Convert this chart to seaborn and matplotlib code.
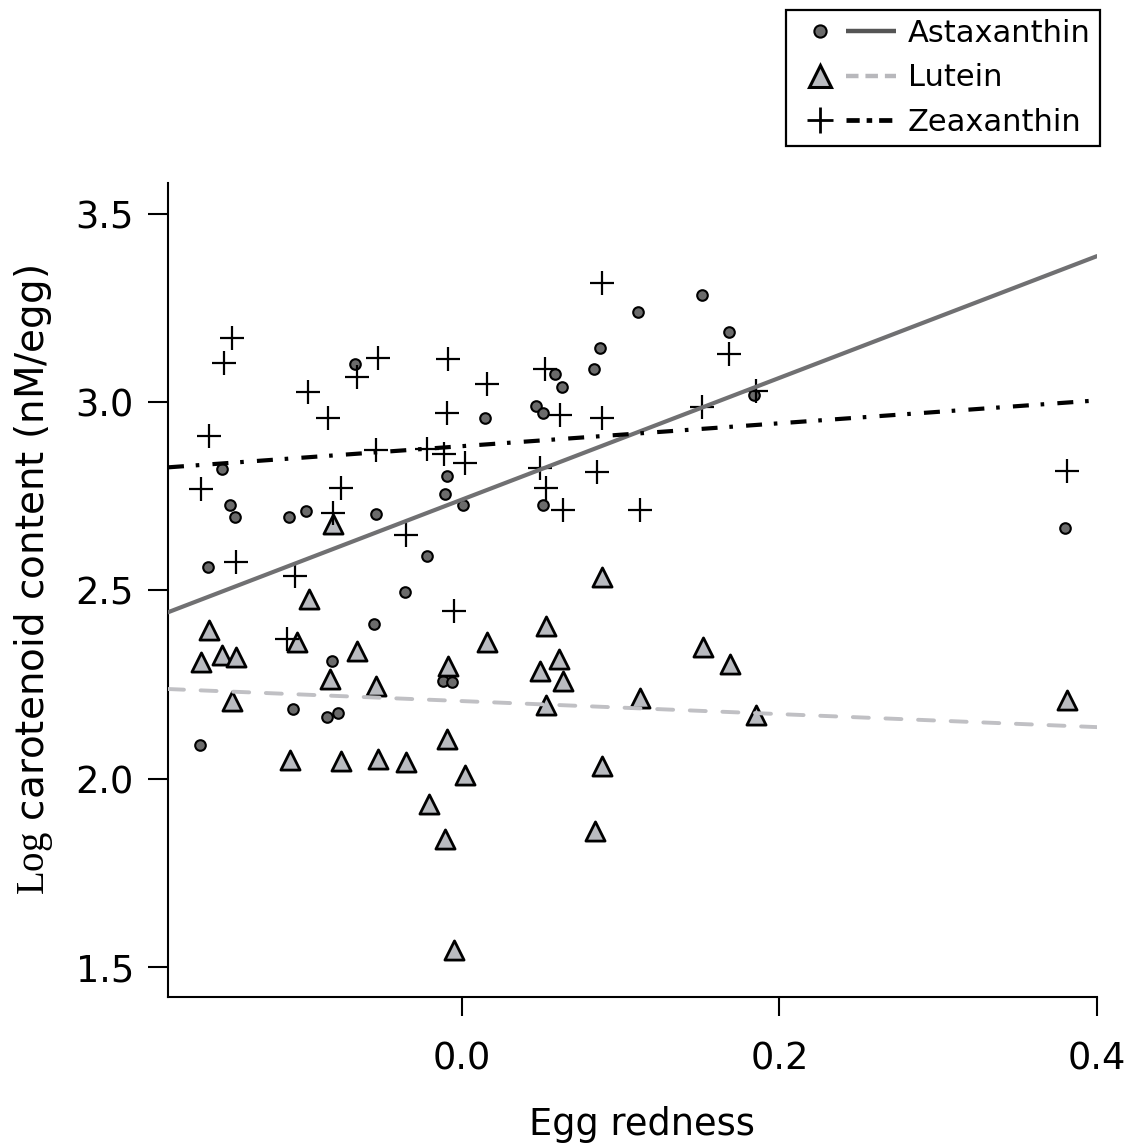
import numpy as np
import pandas as pd
import matplotlib
matplotlib.use("Agg")
import matplotlib.pyplot as plt
import seaborn as sns
from matplotlib.lines import Line2D
from matplotlib.legend_handler import HandlerTuple

# ---------------- data ----------------
series_names = ["Astaxanthin", "Lutein", "Zeaxanthin"]

asta_x = [-0.165, -0.160, -0.151, -0.146, -0.143, -0.109, -0.098, -0.106, -0.085, -0.078,
          -0.082, -0.067, -0.054, -0.055, -0.036, -0.022, -0.012, -0.006, -0.0105, -0.0095,
          0.001, 0.0145, 0.047, 0.051, 0.051, 0.059, 0.063, 0.083, 0.087, 0.111,
          0.151, 0.168, 0.184, 0.380]
asta_y = [2.088, 2.562, 2.822, 2.727, 2.695, 2.695, 2.711, 2.185, 2.165, 2.175,
          2.312, 3.100, 2.702, 2.410, 2.495, 2.591, 2.260, 2.257, 2.755, 2.803,
          2.726, 2.958, 2.990, 2.970, 2.727, 3.074, 3.041, 3.088, 3.144, 3.239,
          3.284, 3.187, 3.019, 2.665]

lut_x = [-0.164, -0.159, -0.151, -0.142, -0.145, -0.108, -0.104, -0.096, -0.081, -0.083,
         -0.076, -0.066, -0.054, -0.0525, -0.035, -0.0205, -0.0096, -0.0107, -0.0084, -0.005,
         0.002, 0.016, 0.049, 0.053, 0.053, 0.061, 0.064, 0.084, 0.088, 0.088,
         0.112, 0.152, 0.169, 0.185, 0.381]
lut_y = [2.310, 2.395, 2.328, 2.324, 2.207, 2.049, 2.364, 2.476, 2.676, 2.264,
         2.047, 2.340, 2.246, 2.052, 2.043, 1.933, 2.105, 1.839, 2.299, 1.545,
         2.010, 2.364, 2.286, 2.405, 2.195, 2.317, 2.258, 1.861, 2.034, 2.536,
         2.213, 2.349, 2.305, 2.169, 2.209]

zea_x = [-0.164, -0.159, -0.150, -0.145, -0.142, -0.110, -0.105, -0.097, -0.084, -0.081,
         -0.076, -0.066, -0.054, -0.0525, -0.035, -0.022, -0.011, -0.0096, -0.0084, -0.005,
         0.002, 0.016, 0.049, 0.0525, 0.053, 0.062, 0.064, 0.085, 0.088, 0.088,
         0.112, 0.1515, 0.168, 0.185, 0.381]
zea_y = [2.768, 2.910, 3.104, 3.169, 2.576, 2.371, 2.539, 3.027, 2.957, 2.706,
         2.771, 3.067, 2.873, 3.116, 2.648, 2.875, 2.861, 2.970, 3.114, 2.445,
         2.839, 3.047, 2.826, 3.087, 2.771, 2.967, 2.713, 2.815, 2.958, 3.317,
         2.713, 2.986, 3.129, 3.030, 2.818]

# regression lines (intercept, slope)
fit_intercept = [2.741, 2.206, 2.883]
fit_slope = [1.617, -0.173, 0.304]

x_ticks = [0.0, 0.2, 0.4]
x_ticklabels = ["0.0", "0.2", "0.4"]
y_ticks = [1.5, 2.0, 2.5, 3.0, 3.5]
y_ticklabels = ["1.5", "2.0", "2.5", "3.0", "3.5"]
x_limits = [-0.185, 0.4]
y_limits = [1.42, 3.582]

# ---------------- style ----------------
sns.set_style("ticks")
plt.rcParams["font.family"] = ["DejaVu Sans"]
plt.rcParams["mathtext.fontset"] = "custom"
plt.rcParams["mathtext.rm"] = "Liberation Serif"
plt.rcParams["lines.scale_dashes"] = False

W, H = 1131, 1146
fig = plt.figure(figsize=(W / 100, H / 100), dpi=100)
fig.patch.set_facecolor("white")
ax = fig.add_axes([168 / W, 1 - 997 / H, (1097 - 168) / W, (997 - 183) / H])
ax.set_facecolor("white")

circ_fill = "#6b6b6b"
tri_fill = "#b9bbc0"

sns.scatterplot(x=asta_x, y=asta_y, marker="o", s=58, color=circ_fill,
                edgecolor="black", linewidth=1.5, ax=ax, zorder=2)
sns.scatterplot(x=lut_x, y=lut_y, marker="^", s=190, color=tri_fill,
                edgecolor="black", linewidth=2.0, ax=ax, zorder=2)
sns.scatterplot(x=zea_x, y=zea_y, marker="+", s=275, color="black",
                linewidth=1.6, ax=ax, zorder=2)

line_styles = [
    dict(color="#707072", lw=3.0, ls="-"),
    dict(color="#c0c0c4", lw=2.8, dashes=(11.5, 12.0), dash_capstyle="round"),
    dict(color="black", lw=3.0, dashes=(11.5, 8.5, 2.6, 9.5)),
]
xs = np.array(x_limits)
for b0, b1, st in zip(fit_intercept, fit_slope, line_styles):
    ax.plot(xs, b0 + b1 * xs, zorder=3, **st)

ax.set_xlim(*x_limits)
ax.set_ylim(*y_limits)
ax.set_xticks(x_ticks)
ax.set_xticklabels(x_ticklabels)
ax.set_yticks(y_ticks)
ax.set_yticklabels(y_ticklabels)

for sp in ["top", "right"]:
    ax.spines[sp].set_visible(False)
for sp in ["left", "bottom"]:
    ax.spines[sp].set_linewidth(1.5)
    ax.spines[sp].set_color("black")

ax.tick_params(axis="x", direction="out", length=14, width=1.5, colors="black",
               labelsize=26.5, pad=17)
ax.tick_params(axis="y", direction="out", length=14.4, width=1.5, colors="black",
               labelsize=26.5, pad=10)

ax.set_xlabel("Egg redness", fontsize=26.5, color="black")
ax.xaxis.set_label_coords(0.51, -0.134)
ax.xaxis.label.set_va("top")
ax.set_ylabel(r"$\mathrm{Log}$ carotenoid content (nM/egg)", fontsize=28, color="black")
ax.yaxis.set_label_coords(-0.122, 0.512)

# ---------------- legend ----------------
h_ast = (Line2D([], [], ls="none", marker="o", ms=8.8, mfc=circ_fill, mec="black", mew=1.5),
         Line2D([], [], color="#555555", lw=3.2, solid_capstyle="butt"))
h_lut = (Line2D([], [], ls="none", marker="^", ms=15.5, mfc=tri_fill, mec="black", mew=2.2),
         Line2D([], [], color="#b8b8bc", lw=3.2, dashes=(9, 5)))
h_zea = (Line2D([], [], ls="none", marker="+", ms=19, color="black", mew=2.0),
         Line2D([], [], color="black", lw=3.4, dashes=(9.5, 5, 4, 5)))

leg = fig.legend([h_ast, h_lut, h_zea], series_names,
                 handler_map={tuple: HandlerTuple(ndivide=None, pad=0.05)},
                 loc="upper right", bbox_to_anchor=(1100 / W, 1 - 10 / H),
                 fontsize=22, frameon=True, fancybox=False, edgecolor="black",
                 framealpha=1, borderpad=0.3, labelspacing=0.5, handlelength=3.3,
                 handletextpad=0.4, borderaxespad=0)
leg.get_frame().set_linewidth(1.6)
for t in leg.get_texts():
    t.set_color("black")

fig.savefig("out.png", dpi=100, facecolor="white")
